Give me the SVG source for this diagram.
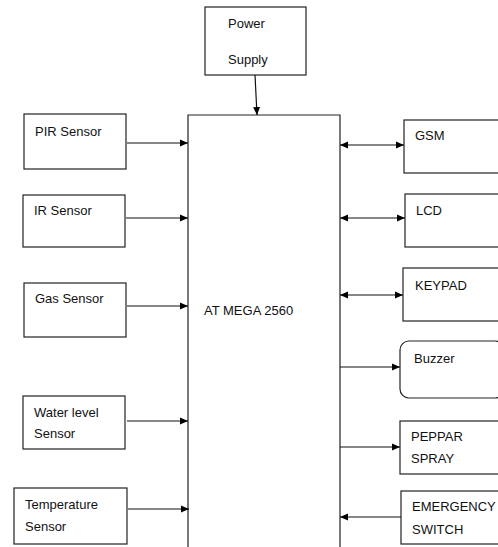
<svg xmlns="http://www.w3.org/2000/svg" width="498" height="547" viewBox="0 0 498 547">
<defs>
<marker id="ah" viewBox="0 0 8 8" refX="8" refY="4" markerWidth="8" markerHeight="8" markerUnits="userSpaceOnUse" orient="auto-start-reverse">
<path d="M0,0.5 L8,4 L0,7.5 Z" fill="#000"/>
</marker>
<style>
.b{fill:#fff;stroke:#222;stroke-width:1.2}
.t{font-family:"Liberation Sans",Arial,sans-serif;font-size:13px;fill:#111}
.c{stroke:#111;stroke-width:1.2;fill:none}
</style>
</defs>
<rect width="498" height="547" fill="#fff"/>
<g id="power"><rect class="b" x="205" y="7" width="101" height="68"/><text class="t" x="228" y="28">Power</text><text class="t" x="228" y="64">Supply</text></g>
<g id="mcu"><path class="b" d="M188,547 V115 H340 V547"/><text class="t" x="204" y="315">AT MEGA 2560</text></g>
<g id="pir"><rect class="b" x="24" y="114" width="102" height="55"/><text class="t" x="35" y="136">PIR Sensor</text></g>
<g id="ir"><rect class="b" x="23" y="195" width="102" height="52"/><text class="t" x="34" y="215">IR Sensor</text></g>
<g id="gas"><rect class="b" x="24" y="283" width="102" height="54"/><text class="t" x="35" y="303">Gas Sensor</text></g>
<g id="water"><rect class="b" x="23" y="396" width="102" height="53"/><text class="t" x="34" y="417">Water level</text><text class="t" x="34" y="438">Sensor</text></g>
<g id="temp"><rect class="b" x="14" y="488" width="113" height="56"/><text class="t" x="25" y="509">Temperature</text><text class="t" x="25" y="531">Sensor</text></g>
<g id="gsm"><rect class="b" x="404" y="120" width="100" height="53"/><text class="t" x="415" y="140">GSM</text></g>
<g id="lcd"><rect class="b" x="405" y="194" width="100" height="53"/><text class="t" x="416" y="215">LCD</text></g>
<g id="keypad"><rect class="b" x="403" y="268" width="100" height="53"/><text class="t" x="415" y="290">KEYPAD</text></g>
<g id="buzzer"><rect class="b" x="400" y="341" width="104" height="57" rx="9"/><text class="t" x="414" y="363">Buzzer</text></g>
<g id="pepper"><rect class="b" x="400" y="421" width="104" height="53"/><text class="t" x="411" y="441">PEPPAR</text><text class="t" x="411" y="463">SPRAY</text></g>
<g id="emergency"><rect class="b" x="401" y="491" width="104" height="53"/><text class="t" x="412" y="511">EMERGENCY</text><text class="t" x="412" y="534">SWITCH</text></g>
<g id="connectors">
<line class="c" x1="255" y1="75" x2="257" y2="115" marker-end="url(#ah)"/>
<line class="c" x1="127" y1="143" x2="188" y2="143" marker-end="url(#ah)"/>
<line class="c" x1="126" y1="218" x2="188" y2="218" marker-end="url(#ah)"/>
<line class="c" x1="127" y1="306" x2="188" y2="306" marker-end="url(#ah)"/>
<line class="c" x1="127" y1="421" x2="188" y2="421" marker-end="url(#ah)"/>
<line class="c" x1="128" y1="509" x2="189" y2="509" marker-end="url(#ah)"/>
<line class="c" x1="340" y1="145" x2="404" y2="145" marker-start="url(#ah)" marker-end="url(#ah)"/>
<line class="c" x1="340" y1="218" x2="405" y2="218" marker-start="url(#ah)" marker-end="url(#ah)"/>
<line class="c" x1="340" y1="295" x2="403" y2="295" marker-start="url(#ah)" marker-end="url(#ah)"/>
<line class="c" x1="340" y1="367" x2="400" y2="367" marker-end="url(#ah)"/>
<line class="c" x1="340" y1="447" x2="400" y2="447" marker-end="url(#ah)"/>
<line class="c" x1="401" y1="517" x2="340" y2="517" marker-end="url(#ah)"/>
</g>
</svg>
